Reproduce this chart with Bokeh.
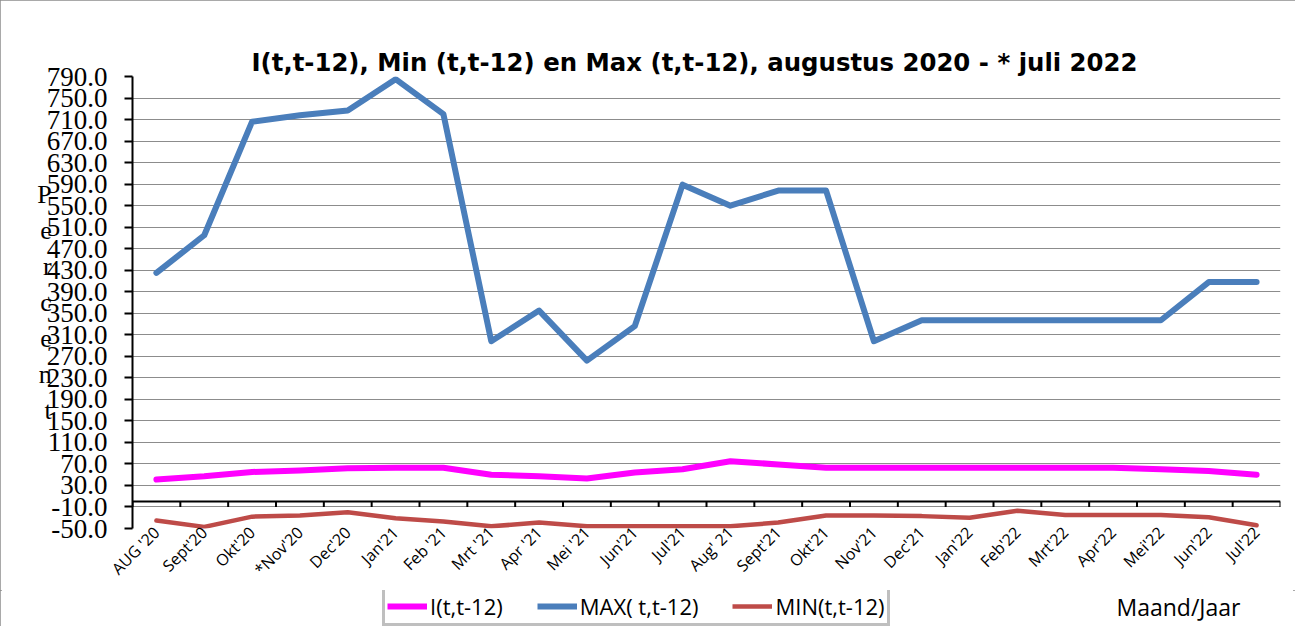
import math
from bokeh.plotting import figure
from bokeh.layouts import column
from bokeh.models import (Range1d, FixedTicker, NumeralTickFormatter, Legend, LegendItem,
                          Label, Span, ColumnDataSource)
from bokeh.embed import file_html
from bokeh.resources import INLINE

months = ["AUG '20", "Sept'20", "Okt'20", "*Nov'20", "Dec'20", "Jan'21", "Feb '21", "Mrt '21",
          "Apr '21", "Mei '21", "Jun'21", "Jul'21", "Aug' 21", "Sept'21", "Okt'21", "Nov'21",
          "Dec'21", "Jan'22", "Feb'22", "Mrt'22", "Apr'22", "Mei'22", "Jun'22", "Jul'22"]
i_vals = [41, 47, 55, 58, 62, 63, 63, 50, 47, 43, 54, 60, 75, 69, 63, 63,
          63, 63, 63, 63, 63, 60, 57, 50]
max_vals = [425, 495, 706, 718, 727, 785, 720, 298, 355, 262, 326, 589, 550, 578, 578, 298,
            337, 337, 337, 337, 337, 337, 408, 408]
min_vals = [-35, -47, -28, -26, -20, -31, -37, -46, -39, -46, -46, -46, -46, -39, -26, -26,
            -27, -30, -17, -25, -25, -25, -29, -44]
y_ticks = [-50, -10, 30, 70, 110, 150, 190, 230, 270, 310, 350, 390, 430, 470, 510, 550,
           590, 630, 670, 710, 750, 790]
title_text = "I(t,t-12), Min (t,t-12) en Max (t,t-12), augustus 2020 - * juli 2022"
y_label = "P\ne\nr\nc\ne\nn\nt"
x_title = "Maand/Jaar"
series_names = ["I(t,t-12)", "MAX( t,t-12)", "MIN(t,t-12)"]
series_colors = ["#FF00FF", "#4A7EBB", "#BE4B48"]
series_widths = [6, 6, 4.5]

FW, FH = 1148, 452
n = len(months)
xs = [k + 0.5 for k in range(n)]
src = ColumnDataSource(dict(x=xs, i=i_vals, mx=max_vals, mn=min_vals))

p = figure(frame_width=FW, frame_height=FH, output_backend="svg", toolbar_location=None,
           x_range=Range1d(0, n), y_range=Range1d(y_ticks[0], y_ticks[-1]),
           min_border_left=132, min_border_right=15, min_border_top=76, min_border_bottom=0)
p.outline_line_color = None
p.background_fill_color = "white"
p.border_fill_color = "white"

# title
p.title.text = title_text
p.title.text_font = "DejaVu Sans"
p.title.text_font_size = "24.4px"
p.title.text_font_style = "bold"
p.title.text_color = "black"
p.title.align = "left"
p.title.offset = 119
p.title.standoff = 0

# y axis
p.yaxis.ticker = FixedTicker(ticks=y_ticks)
p.yaxis.formatter = NumeralTickFormatter(format="0.0")
p.yaxis.major_label_text_font = "Liberation Serif"
p.yaxis.major_label_text_font_size = "27px"
p.yaxis.major_label_text_color = "black"
p.yaxis.axis_line_width = 2
p.yaxis.axis_line_color = "black"
p.yaxis.major_tick_line_width = 2
p.yaxis.major_tick_out = 8
p.yaxis.major_tick_in = 0
p.yaxis.minor_tick_line_color = None
p.yaxis.major_label_standoff = 17
p.yaxis.axis_label = y_label
p.yaxis.axis_label_orientation = "horizontal"
p.yaxis.axis_label_text_font = "Liberation Serif"
p.yaxis.axis_label_text_font_size = "26px"
p.yaxis.axis_label_text_font_style = "normal"
p.yaxis.axis_label_text_color = "black"
p.yaxis.axis_label_text_line_height = 1.24
p.yaxis.axis_label_standoff = -8

# x axis (labels only)
p.xaxis.ticker = FixedTicker(ticks=xs)
p.xaxis.major_label_overrides = {x: m for x, m in zip(xs, months)}
p.xaxis.major_label_orientation = math.pi / 4
p.xaxis.major_label_text_font = "Open Sans"
p.xaxis.major_label_text_font_size = "16px"
p.xaxis.major_label_text_color = "black"
p.xaxis.axis_line_color = None
p.xaxis.major_tick_line_color = None
p.xaxis.major_tick_out = 0
p.xaxis.major_tick_in = 0
p.xaxis.minor_tick_line_color = None
p.xaxis.minor_tick_out = 0
p.xaxis.major_label_standoff = 1

p.xgrid.grid_line_color = None
p.ygrid.ticker = FixedTicker(ticks=y_ticks)
p.ygrid.grid_line_color = "#8c8c8c"
p.ygrid.grid_line_width = 1

# zero axis line with ticks at category boundaries
p.add_layout(Span(location=0, dimension="width", line_color="black", line_width=2))
bounds = list(range(n + 1))
p.segment(x0=bounds, x1=bounds, y0=[0] * len(bounds), y1=[-10] * len(bounds),
          line_color="black", line_width=2)

for col, c, w in zip(["i", "mx", "mn"], series_colors, series_widths):
    p.line("x", col, source=src, line_color=c, line_width=w, line_join="round", line_cap="round")

# bottom strip with legend and axis title (frame aligned with main frame)
q = figure(frame_width=FW, frame_height=38, output_backend="svg", toolbar_location=None,
           x_range=Range1d(0, 1), y_range=Range1d(0, 1),
           min_border_left=132, min_border_right=15, min_border_top=0, min_border_bottom=0)
q.axis.visible = False
q.grid.visible = False
q.outline_line_color = None
q.border_fill_color = "white"
items = []
for name, c, w in zip(series_names, series_colors, series_widths):
    # proxy line outside the visible range: only its legend swatch shows
    r = q.line(x=[-2, -1], y=[-2, -1], line_color=c, line_width=w)
    items.append(LegendItem(label=name, renderers=[r]))
legend = Legend(items=items, orientation="horizontal", location=(250, 2))
legend.label_text_font = "Open Sans"
legend.label_text_font_size = "22px"
legend.label_text_color = "black"
legend.glyph_width = 40
legend.spacing = 34
legend.padding = 2
legend.margin = 0
legend.label_standoff = 3
legend.border_line_color = "#808080"
legend.border_line_width = 3
legend.background_fill_alpha = 1
q.add_layout(legend, "center")
q.add_layout(Label(x=1046, y=22, x_units="screen", y_units="screen", text=x_title,
                   text_font="Open Sans", text_font_size="23px",
                   text_align="center", text_baseline="middle", text_color="black"))

layout = column(p, q, spacing=0)
layout.styles = {"outline": "2px solid #8c8c8c", "outline-offset": "-2px"}

open("out.html", "w").write(file_html(layout, INLINE))
